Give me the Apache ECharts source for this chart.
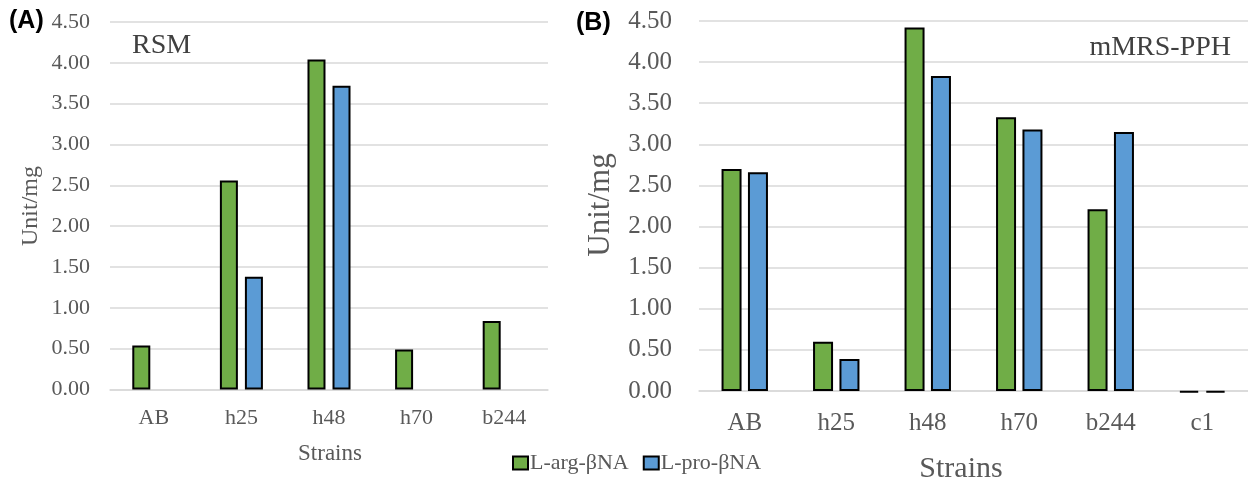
<!DOCTYPE html>
<html>
<head>
<meta charset="utf-8">
<script src="https://cdn.jsdelivr.net/npm/echarts@6/dist/echarts.min.js"></script>
<style>
html,body{margin:0;padding:0;background:#fff;}
#chart{width:1248px;height:482px;}
</style>
</head>
<body>
<div id="chart"></div>
<script>
// ---- data ----
const categoriesA = ['AB', 'h25', 'h48', 'h70', 'b244'];
const argA = [0.54, 2.56, 4.04, 0.49, 0.84];
const proA = [null, 1.38, 3.72, null, null];

const categoriesB = ['AB', 'h25', 'h48', 'h70', 'b244', 'c1'];
const argB = [2.70, 0.60, 4.42, 3.33, 2.21, -0.02];
const proB = [2.66, 0.39, 3.83, 3.18, 3.15, -0.02];

const yTicks = [0, 0.5, 1, 1.5, 2, 2.5, 3, 3.5, 4, 4.5];
const seriesNames = ['L-arg-βNA', 'L-pro-βNA'];

// ---- styles ----
const GREEN = '#70AD47', BLUE = '#5B9BD5';
const SERIF = '"Liberation Serif", "Times New Roman", serif';
const GRAY = '#595959', GRID = '#D9D9D9';

const chart = echarts.init(document.getElementById('chart'), null, {renderer: 'canvas'});

function yAxis(gridIndex, fontSize, margin) {
  return {
    type: 'value', gridIndex: gridIndex,
    min: yTicks[0], max: yTicks[yTicks.length - 1], interval: yTicks[1] - yTicks[0],
    axisLine: {show: false}, axisTick: {show: false},
    splitLine: {lineStyle: {color: GRID, width: 1.5}},
    axisLabel: {fontFamily: SERIF, fontSize: fontSize, color: GRAY, margin: margin,
      formatter: v => v.toFixed(2)}
  };
}
function xAxis(gridIndex, cats, fontSize, margin) {
  return {
    type: 'category', gridIndex: gridIndex, data: cats,
    axisLine: {onZero: false, lineStyle: {color: GRID, width: 1.5}},
    axisTick: {show: false},
    axisLabel: {fontFamily: SERIF, fontSize: fontSize, color: GRAY, margin: margin}
  };
}
function bar(name, data, idx, color, width, gap) {
  return {
    name: name, type: 'bar', data: data, xAxisIndex: idx, yAxisIndex: idx,
    barWidth: width, barGap: gap, clip: false,
    itemStyle: {color: color, borderColor: '#000', borderWidth: 2},
    emphasis: {disabled: true}
  };
}

chart.setOption({
  animation: false,
  backgroundColor: '#fff',
  grid: [
    {left: 110, right: 1248 - 548, top: 22, bottom: 482 - 389.5},
    {left: 699, right: 0, top: 21, bottom: 482 - 391}
  ],
  xAxis: [xAxis(0, categoriesA, 22, 18), xAxis(1, categoriesB, 25, 20)],
  yAxis: [yAxis(0, 22, 20), yAxis(1, 25, 27)],
  legend: {
    data: seriesNames, left: 507, top: 447, icon: 'rect',
    itemWidth: 15, itemHeight: 13, itemGap: 14,
    textStyle: {fontFamily: SERIF, fontSize: 22, color: GRAY, padding: [0, 0, 0, -3]}
  },
  series: [
    bar(seriesNames[0], argA, 0, GREEN, 18, '39%'),
    bar(seriesNames[1], proA, 0, BLUE, 18, '39%'),
    bar(seriesNames[0], argB, 1, GREEN, 20, '32%'),
    bar(seriesNames[1], proB, 1, BLUE, 20, '32%')
  ],
  graphic: [
    {type: 'text', left: 9, top: 9, style: {text: '(A)', font: 'bold 25px "Liberation Sans", Arial, sans-serif', fill: '#000'}},
    {type: 'text', left: 576, top: 11, style: {text: '(B)', font: 'bold 25px "Liberation Sans", Arial, sans-serif', fill: '#000'}},
    {type: 'text', x: 132, y: 46, style: {text: 'RSM', font: '28px ' + SERIF, fill: '#404040', textVerticalAlign: 'middle'}},
    {type: 'text', x: 1231, y: 48, style: {text: 'mMRS-PPH', font: '28px ' + SERIF, fill: '#404040', textAlign: 'right', textVerticalAlign: 'middle'}},
    {type: 'text', x: 330, y: 454, style: {text: 'Strains', font: '23px ' + SERIF, fill: GRAY, textAlign: 'center', textVerticalAlign: 'middle'}},
    {type: 'text', x: 961, y: 469, style: {text: 'Strains', font: '30px ' + SERIF, fill: GRAY, textAlign: 'center', textVerticalAlign: 'middle'}},
    {type: 'text', x: 31, y: 206, rotation: Math.PI / 2, style: {text: 'Unit/mg', font: '24px ' + SERIF, fill: GRAY, textAlign: 'center', textVerticalAlign: 'middle'}},
    {type: 'text', x: 601, y: 205, rotation: Math.PI / 2, style: {text: 'Unit/mg', font: '31px ' + SERIF, fill: GRAY, textAlign: 'center', textVerticalAlign: 'middle'}}
  ]
});
</script>
</body>
</html>
